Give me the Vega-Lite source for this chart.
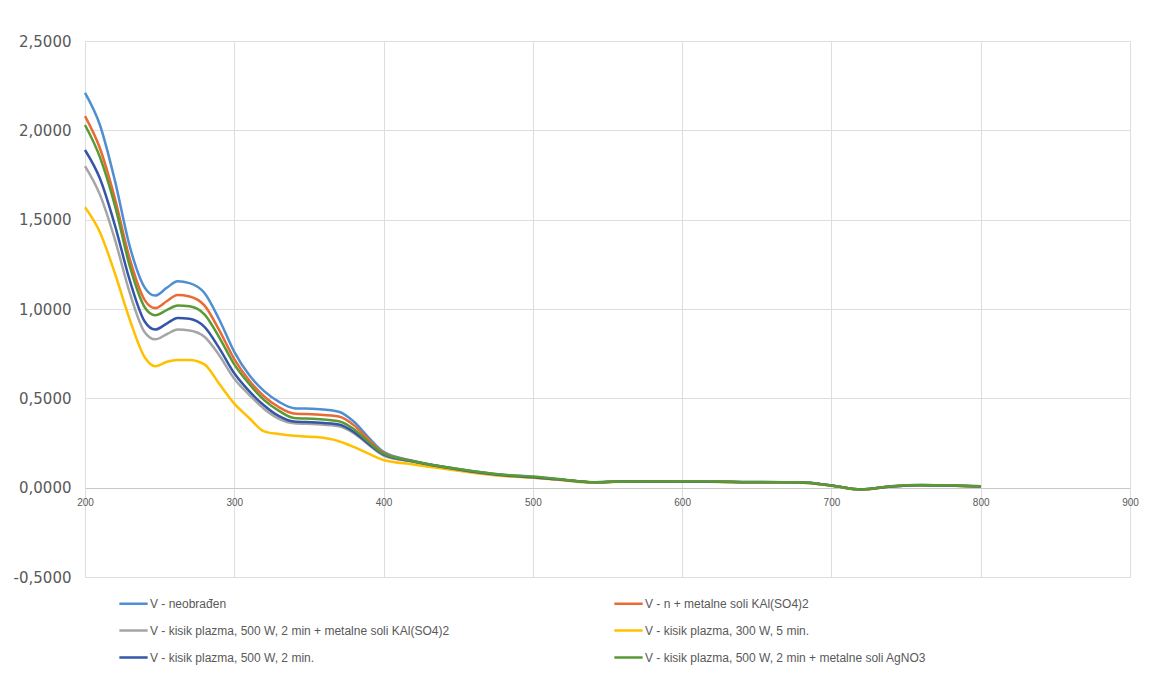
{
  "$schema": "https://vega.github.io/schema/vega-lite/v6.json",
  "autosize": {"type": "none"},
  "width": 1045,
  "height": 536,
  "padding": {"left": 85, "top": 41, "right": 19, "bottom": 112},
  "background": "white",
  "datasets": {
    "labels": [
      {"key": "s1", "label": "V - neobrađen"},
      {"key": "s2", "label": "V - n + metalne soli KAl(SO4)2"},
      {"key": "s3", "label": "V - kisik plazma, 500 W, 2 min + metalne soli KAl(SO4)2"},
      {"key": "s4", "label": "V - kisik plazma, 300 W, 5 min."},
      {"key": "s5", "label": "V - kisik plazma, 500 W, 2 min."},
      {"key": "s6", "label": "V - kisik plazma, 500 W, 2 min + metalne soli AgNO3"}
    ]
  },
  "data": {
    "values": [
      {"nm": 200, "s1": 2.21, "s2": 2.08, "s3": 1.80, "s4": 1.57, "s5": 1.89, "s6": 2.03},
      {"nm": 210, "s1": 2.03, "s2": 1.90, "s3": 1.64, "s4": 1.43, "s5": 1.73, "s6": 1.85},
      {"nm": 220, "s1": 1.72, "s2": 1.62, "s3": 1.39, "s4": 1.20, "s5": 1.47, "s6": 1.58},
      {"nm": 230, "s1": 1.35, "s2": 1.28, "s3": 1.09, "s4": 0.94, "s5": 1.16, "s6": 1.24},
      {"nm": 240, "s1": 1.12, "s2": 1.05, "s3": 0.87, "s4": 0.73, "s5": 0.93, "s6": 1.01},
      {"nm": 247, "s1": 1.075, "s2": 1.005, "s3": 0.83, "s4": 0.68, "s5": 0.885, "s6": 0.965},
      {"nm": 255, "s1": 1.12, "s2": 1.045, "s3": 0.86, "s4": 0.705, "s5": 0.92, "s6": 0.995},
      {"nm": 262, "s1": 1.155, "s2": 1.078, "s3": 0.885, "s4": 0.715, "s5": 0.95, "s6": 1.02},
      {"nm": 270, "s1": 1.145, "s2": 1.07, "s3": 0.88, "s4": 0.715, "s5": 0.945, "s6": 1.015},
      {"nm": 280, "s1": 1.09, "s2": 1.02, "s3": 0.845, "s4": 0.69, "s5": 0.90, "s6": 0.97},
      {"nm": 290, "s1": 0.94, "s2": 0.88, "s3": 0.74, "s4": 0.58, "s5": 0.78, "s6": 0.84},
      {"nm": 300, "s1": 0.76, "s2": 0.72, "s3": 0.61, "s4": 0.47, "s5": 0.64, "s6": 0.69},
      {"nm": 310, "s1": 0.63, "s2": 0.60, "s3": 0.52, "s4": 0.39, "s5": 0.54, "s6": 0.58},
      {"nm": 320, "s1": 0.54, "s2": 0.51, "s3": 0.44, "s4": 0.315, "s5": 0.46, "s6": 0.49},
      {"nm": 330, "s1": 0.48, "s2": 0.45, "s3": 0.385, "s4": 0.30, "s5": 0.40, "s6": 0.43},
      {"nm": 340, "s1": 0.445, "s2": 0.415, "s3": 0.36, "s4": 0.29, "s5": 0.37, "s6": 0.39},
      {"nm": 355, "s1": 0.44, "s2": 0.41, "s3": 0.355, "s4": 0.283, "s5": 0.365, "s6": 0.385},
      {"nm": 370, "s1": 0.425, "s2": 0.398, "s3": 0.343, "s4": 0.26, "s5": 0.353, "s6": 0.372},
      {"nm": 380, "s1": 0.37, "s2": 0.35, "s3": 0.305, "s4": 0.228, "s5": 0.312, "s6": 0.328},
      {"nm": 390, "s1": 0.28, "s2": 0.268, "s3": 0.24, "s4": 0.19, "s5": 0.245, "s6": 0.255},
      {"nm": 400, "s1": 0.20, "s2": 0.195, "s3": 0.18, "s4": 0.155, "s5": 0.185, "s6": 0.19},
      {"nm": 420, "s1": 0.15, "s2": 0.148, "s3": 0.145, "s4": 0.13, "s5": 0.146, "s6": 0.148},
      {"nm": 450, "s1": 0.105, "s2": 0.103, "s3": 0.10, "s4": 0.095, "s5": 0.101, "s6": 0.104},
      {"nm": 480, "s1": 0.072, "s2": 0.07, "s3": 0.068, "s4": 0.065, "s5": 0.069, "s6": 0.072},
      {"nm": 500, "s1": 0.06, "s2": 0.058, "s3": 0.057, "s4": 0.055, "s5": 0.058, "s6": 0.062},
      {"nm": 520, "s1": 0.045, "s2": 0.044, "s3": 0.043, "s4": 0.042, "s5": 0.044, "s6": 0.046},
      {"nm": 540, "s1": 0.03, "s2": 0.03, "s3": 0.029, "s4": 0.028, "s5": 0.03, "s6": 0.03},
      {"nm": 560, "s1": 0.035, "s2": 0.034, "s3": 0.034, "s4": 0.033, "s5": 0.034, "s6": 0.035},
      {"nm": 600, "s1": 0.036, "s2": 0.035, "s3": 0.035, "s4": 0.034, "s5": 0.035, "s6": 0.036},
      {"nm": 640, "s1": 0.032, "s2": 0.031, "s3": 0.031, "s4": 0.03, "s5": 0.031, "s6": 0.032},
      {"nm": 680, "s1": 0.03, "s2": 0.029, "s3": 0.029, "s4": 0.028, "s5": 0.029, "s6": 0.03},
      {"nm": 700, "s1": 0.012, "s2": 0.012, "s3": 0.011, "s4": 0.011, "s5": 0.012, "s6": 0.012},
      {"nm": 720, "s1": -0.01, "s2": -0.01, "s3": -0.011, "s4": -0.011, "s5": -0.01, "s6": -0.01},
      {"nm": 740, "s1": 0.008, "s2": 0.007, "s3": 0.007, "s4": 0.007, "s5": 0.007, "s6": 0.008},
      {"nm": 760, "s1": 0.015, "s2": 0.014, "s3": 0.014, "s4": 0.013, "s5": 0.014, "s6": 0.015},
      {"nm": 780, "s1": 0.012, "s2": 0.011, "s3": 0.011, "s4": 0.011, "s5": 0.011, "s6": 0.012},
      {"nm": 800, "s1": 0.008, "s2": 0.007, "s3": 0.007, "s4": 0.007, "s5": 0.007, "s6": 0.008}
    ]
  },
  "transform": [
    {"fold": ["s1", "s2", "s3", "s4", "s5", "s6"], "as": ["key", "abs"]},
    {"lookup": "key", "from": {"data": {"name": "labels"}, "key": "key", "fields": ["label"]}}
  ],
  "mark": {"type": "line", "interpolate": "monotone", "strokeWidth": 2.5},
  "encoding": {
    "x": {
      "field": "nm", "type": "quantitative",
      "scale": {"domain": [200, 900], "nice": false},
      "axis": {
        "title": null, "values": [200, 300, 400, 500, 600, 700, 800, 900],
        "offset": -89, "ticks": false, "domain": true, "domainColor": "#c8c8c8",
        "grid": true, "gridColor": "#dedede", "labelPadding": 9, "labelFlush": false,
        "labelFont": "Liberation Sans Narrow, Liberation Sans", "labelFontSize": 10,
        "labelColor": "#595959"
      }
    },
    "y": {
      "field": "abs", "type": "quantitative",
      "scale": {"domain": [-0.5, 2.5], "nice": false},
      "axis": {
        "title": null, "values": [-0.5, 0, 0.5, 1, 1.5, 2, 2.5],
        "labelExpr": "replace(replace(format(datum.value, '.4f'), '.', ','), '\u2212', '-')",
        "ticks": false, "domain": false, "grid": true, "gridColor": "#dedede",
        "labelPadding": 14, "labelFont": "DejaVu Sans", "labelFontSize": 15,
        "labelColor": "#595959"
      }
    },
    "color": {
      "field": "label", "type": "nominal",
      "scale": {
        "domain": [
          "V - neobrađen",
          "V - kisik plazma, 500 W, 2 min + metalne soli KAl(SO4)2",
          "V - kisik plazma, 500 W, 2 min.",
          "V - n + metalne soli KAl(SO4)2",
          "V - kisik plazma, 300 W, 5 min.",
          "V - kisik plazma, 500 W, 2 min + metalne soli AgNO3"
        ],
        "range": ["#4E8FD3", "#A5A5A5", "#3556A8", "#EA6A35", "#FFC000", "#5A9A35"]
      },
      "legend": {
        "title": null, "orient": "none", "legendX": 33, "legendY": 547,
        "columns": 2, "columnPadding": 159, "rowPadding": 5,
        "symbolType": "stroke", "symbolSize": 800, "symbolStrokeWidth": 2.5,
        "labelFont": "Liberation Sans", "labelFontSize": 12, "labelColor": "#595959",
        "labelOffset": 1, "labelLimit": 500
      }
    }
  },
  "config": {"view": {"stroke": null}}
}
